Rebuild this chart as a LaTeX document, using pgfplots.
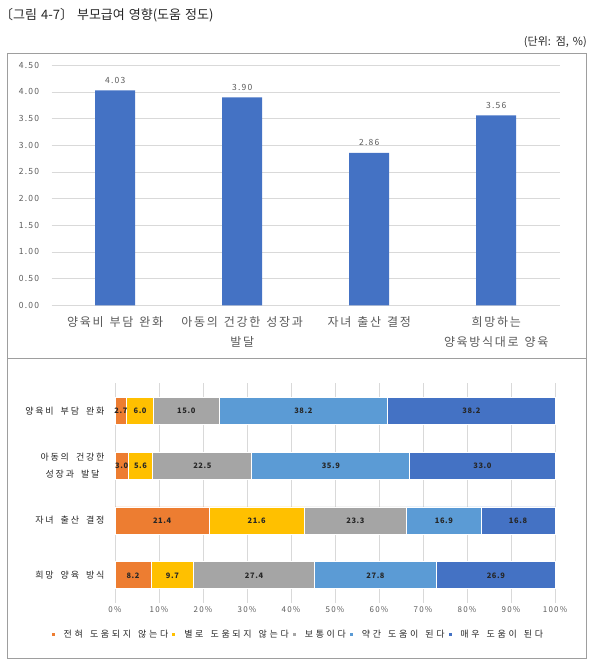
\documentclass[border=0pt]{standalone}
\usepackage{fontspec}
\setmainfont{Noto Sans CJK KR}
\newfontfamily\titf{Noto Sans CJK KR}
\newfontfamily\topx{Noto Sans CJK KR}[LetterSpace=14]
\newfontfamily\botlab{Noto Sans CJK KR}[LetterSpace=20]
\newfontfamily\legf{Noto Sans CJK KR}[LetterSpace=30]
\newfontfamily\num{Noto Sans CJK KR}[LetterSpace=15]
\newfontfamily\numb{Noto Sans CJK KR}[LetterSpace=8]
\usepackage{pgfplots}
\usepackage{pgfplotstable}
\pgfplotsset{compat=1.18}
\definecolor{cOr}{HTML}{ED7D31}
\definecolor{cYe}{HTML}{FFC000}
\definecolor{cGr}{HTML}{A5A5A5}
\definecolor{cLb}{HTML}{5B9BD5}
\definecolor{cDb}{HTML}{4472C4}
\definecolor{txt}{HTML}{595959}
\definecolor{grd}{HTML}{D9D9D9}

% shares (%) per response, one row per item
\pgfplotstableread{
row a b c d e
0 2.7 6.0 15.0 38.2 38.2
1 3.0 5.6 22.5 35.9 33.0
2 21.4 21.6 23.3 16.9 16.8
3 8.2 9.7 27.4 27.8 26.9
}\stackdata

% label positions: middle of each stacked segment
\pgfplotstableread{
row mid val
0 1.35 2.7
0 5.7 6.0
0 16.2 15.0
0 42.8 38.2
0 81.0 38.2
1 1.5 3.0
1 5.8 5.6
1 19.85 22.5
1 49.05 35.9
1 83.5 33.0
2 10.7 21.4
2 32.2 21.6
2 54.65 23.3
2 74.75 16.9
2 91.6 16.8
3 4.1 8.2
3 13.05 9.7
3 31.6 27.4
3 59.2 27.8
3 86.55 26.9
}\labdata

\pgfplotstableread{
x y
0 4.03
1 3.90
2 2.86
3 3.56
}\meandata

\tikzset{
  fmt2/.style={/pgf/number format/fixed, /pgf/number format/fixed zerofill, /pgf/number format/precision=2, /pgf/number format/assume math mode=true},
  fmt1/.style={/pgf/number format/fixed, /pgf/number format/fixed zerofill, /pgf/number format/precision=1, /pgf/number format/assume math mode=true},
}
\pgfplotsset{
  botgeom/.style={at={(115pt,-602.7pt)}, anchor=south west,
    scale only axis, width=440pt, height=219.4pt,
    xmin=0, xmax=100, ymin=-0.5, ymax=3.5, y dir=reverse, clip=false},
}

\begin{document}
\begin{tikzpicture}
\path[use as bounding box] (0,0) rectangle (593pt,-663pt);
\node[anchor=west, inner sep=0pt, font={\titf\fontsize{13}{15}\selectfont\spaceskip=4pt\relax}, text=black!85] at (0pt,-15pt) {〔그림 4-7〕 부모급여 영향(도움 정도)};
\node[anchor=east, inner sep=0pt, font={\titf\fontsize{11}{13}\selectfont\spaceskip=4pt\relax}, text=black!85] at (587pt,-42pt) {(단위: 점, \%)};
\draw[black!38, line width=0.8pt] (7.3pt,-53.3pt) rectangle (586.7pt,-658.7pt);
\draw[black!38, line width=0.8pt] (7.3pt,-358.3pt) -- (586.7pt,-358.3pt);

\begin{axis}[
  at={(51.7pt,-305.3pt)}, anchor=south west,
  scale only axis, width=508pt, height=240pt,
  xmin=-0.5, xmax=3.5, ymin=0, ymax=4.5,
  ytick={0,0.5,1,1.5,2,2.5,3,3.5,4,4.5},
  yticklabel style={fmt2, font=\num\fontsize{8.5}{10}\selectfont, text=txt, xshift=-9pt},
  ymajorgrids, major grid style={grd, line width=0.8pt},
  axis line style={draw=none}, tick style={draw=none},
  xtick={0,1,2,3},
  xticklabels={양육비 부담 완화, {아동의 건강한 성장과\\발달}, 자녀 출산 결정, {희망하는\\양육방식대로 양육}},
  xticklabel style={align=center, font={\topx\fontsize{12}{20}\selectfont\spaceskip=6pt\relax}, text=txt, yshift=-3.5pt},
  ybar, bar width=40pt,
  nodes near coords,
  nodes near coords style={fmt2, font=\num\fontsize{8.5}{10}\selectfont, text=txt, yshift=3.5pt},
  clip=false,
]
\addplot[fill=cDb, draw=none] table[x=x, y=y] {\meandata};
\end{axis}

\begin{axis}[
  botgeom,
  xbar stacked, bar width=27pt,
  xtick={0,10,20,30,40,50,60,70,80,90,100},
  xticklabel={\pgfmathprintnumber{\tick}\%},
  xticklabel style={/pgf/number format/assume math mode=true, font=\num\fontsize{8}{10}\selectfont, text=txt},
  xmajorgrids, major grid style={grd, line width=0.8pt},
  axis line style={draw=none}, tick style={draw=none},
  ytick={0,1,2,3},
  yticklabels={양육비 부담 완화, {아동의 건강한\\성장과 발달}, 자녀 출산 결정, 희망 양육 방식},
  yticklabel style={align=center, font={\botlab\fontsize{9}{16.5}\selectfont\spaceskip=7pt\relax}, text=black!85, xshift=-7pt},
  legend columns=5,
  legend style={at={(0.416,-0.143)}, anchor=center, draw=none, fill=none,
     font={\legf\fontsize{9}{11}\selectfont\spaceskip=7pt\relax}, text=black!85,
     /tikz/every even column/.append style={column sep=1pt},
     /tikz/every odd column/.append style={column sep=6pt}},
  legend image code/.code={\fill[#1] (0pt,-2pt) rectangle (4pt,2pt);},
]
\addplot[fill=cOr, draw=white, line width=0.8pt] table[x=a, y=row] {\stackdata};
\addplot[fill=cYe, draw=white, line width=0.8pt] table[x=b, y=row] {\stackdata};
\addplot[fill=cGr, draw=white, line width=0.8pt] table[x=c, y=row] {\stackdata};
\addplot[fill=cLb, draw=white, line width=0.8pt] table[x=d, y=row] {\stackdata};
\addplot[fill=cDb, draw=white, line width=0.8pt] table[x=e, y=row] {\stackdata};
\legend{전혀 도움되지 않는다, 별로 도움되지 않는다, 보통이다, 약간 도움이 된다, 매우 도움이 된다}
\end{axis}

\begin{axis}[
  botgeom, hide axis,
]
\addplot[only marks, mark=none, point meta=explicit, nodes near coords,
  nodes near coords style={fmt1, anchor=center, font=\numb\bfseries\fontsize{7.5}{9}\selectfont, text=black!85}]
  table[x=mid, y=row, meta=val] {\labdata};
\end{axis}
\end{tikzpicture}
\end{document}
